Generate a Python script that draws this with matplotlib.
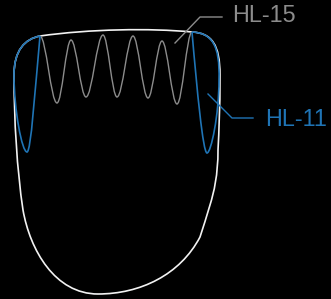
import matplotlib
matplotlib.use("Agg")
import matplotlib.pyplot as plt
from matplotlib.path import Path
from matplotlib.patches import PathPatch

# ===== data (pixel coordinates of the drawing, y downwards) =====
# outline of the head: start point + cubic bezier segments (c1, c2, end)
outline_start = (40, 36)
outline_segments = [
    ((90, 29), (150, 28), (192, 32)),     # top edge
    ((212, 33), (220, 45), (220, 75)),    # right corner
    ((220, 110), (219, 130), (218, 150)),
    ((218, 175), (214, 192), (210, 205)),
    ((207, 215), (203, 228), (200, 237)),
    ((180, 275), (140, 294), (98, 294)),  # bottom
    ((55, 294), (30, 250), (23, 210)),
    ((17, 170), (14, 120), (14, 75)),
    ((14, 50), (25, 39), (40, 36)),       # left corner
]

# HL-11 (blue) side blades
blue_left = [
    (40, 36),
    ((25, 39), (14, 50), (14, 75)),
    ((14, 110), (22, 152), (27, 152)),
    ((31, 152), (35, 90), (40, 36)),
]
blue_right = [
    (192, 32),
    ((212, 33), (220, 45), (219, 80)),
    ((219, 115), (211, 153), (207, 153)),
    ((203, 153), (197, 90), (192, 32)),
]

# HL-15 (grey) wave: peaks and troughs
wave_x = [40, 57, 71, 86, 103, 117, 133, 148, 162, 177, 192]
wave_y = [36, 103, 40, 97, 35, 97, 36, 98, 41, 104, 32]

labels = ["HL-15", "HL-11"]
label_xy = [(232, 16), (265, 119)]
leader_x = [[175, 200, 222], [208, 232, 253]]
leader_y = [[43, 17, 17], [94, 118, 118]]

GREY = "#8c8c8c"
BLUE = "#1f74b5"
WHITE = "#f2f2f2"


def bezier_path(start, segs):
    verts = [start]
    codes = [Path.MOVETO]
    for c1, c2, end in segs:
        verts += [c1, c2, end]
        codes += [Path.CURVE4] * 3
    return Path(verts, codes)


def wave_path(xs, ys, k=0.36):
    verts = [(xs[0], ys[0])]
    codes = [Path.MOVETO]
    for i in range(1, len(xs)):
        dx = xs[i] - xs[i - 1]
        verts += [(xs[i - 1] + k * dx, ys[i - 1]), (xs[i] - k * dx, ys[i]), (xs[i], ys[i])]
        codes += [Path.CURVE4] * 3
    return Path(verts, codes)


# ===== 绘图 =====
fig = plt.figure(figsize=(3.31, 2.99), dpi=100, facecolor="black")
ax = fig.add_axes([0, 0, 1, 1])
ax.set_facecolor("black")
ax.set_xlim(0, 331)
ax.set_ylim(299, 0)
ax.axis("off")

ax.add_patch(PathPatch(bezier_path(outline_start, outline_segments),
                       fill=False, edgecolor=WHITE, lw=1.2))
ax.add_patch(PathPatch(wave_path(wave_x, wave_y),
                       fill=False, edgecolor=GREY, lw=1.0))
for blade in (blue_left, blue_right):
    ax.add_patch(PathPatch(bezier_path(blade[0], blade[1:]),
                           fill=False, edgecolor=BLUE, lw=1.2))

for lab, (tx, ty), lx, ly, col in zip(labels, label_xy, leader_x, leader_y, [GREY, BLUE]):
    ax.plot(lx, ly, color=col, lw=1.0)
    ax.text(tx, ty, lab, color=col, fontsize=16.8, family="Liberation Sans",
            ha="left", va="center")

fig.savefig("out.png", dpi=100, facecolor="black")
plt.close(fig)
